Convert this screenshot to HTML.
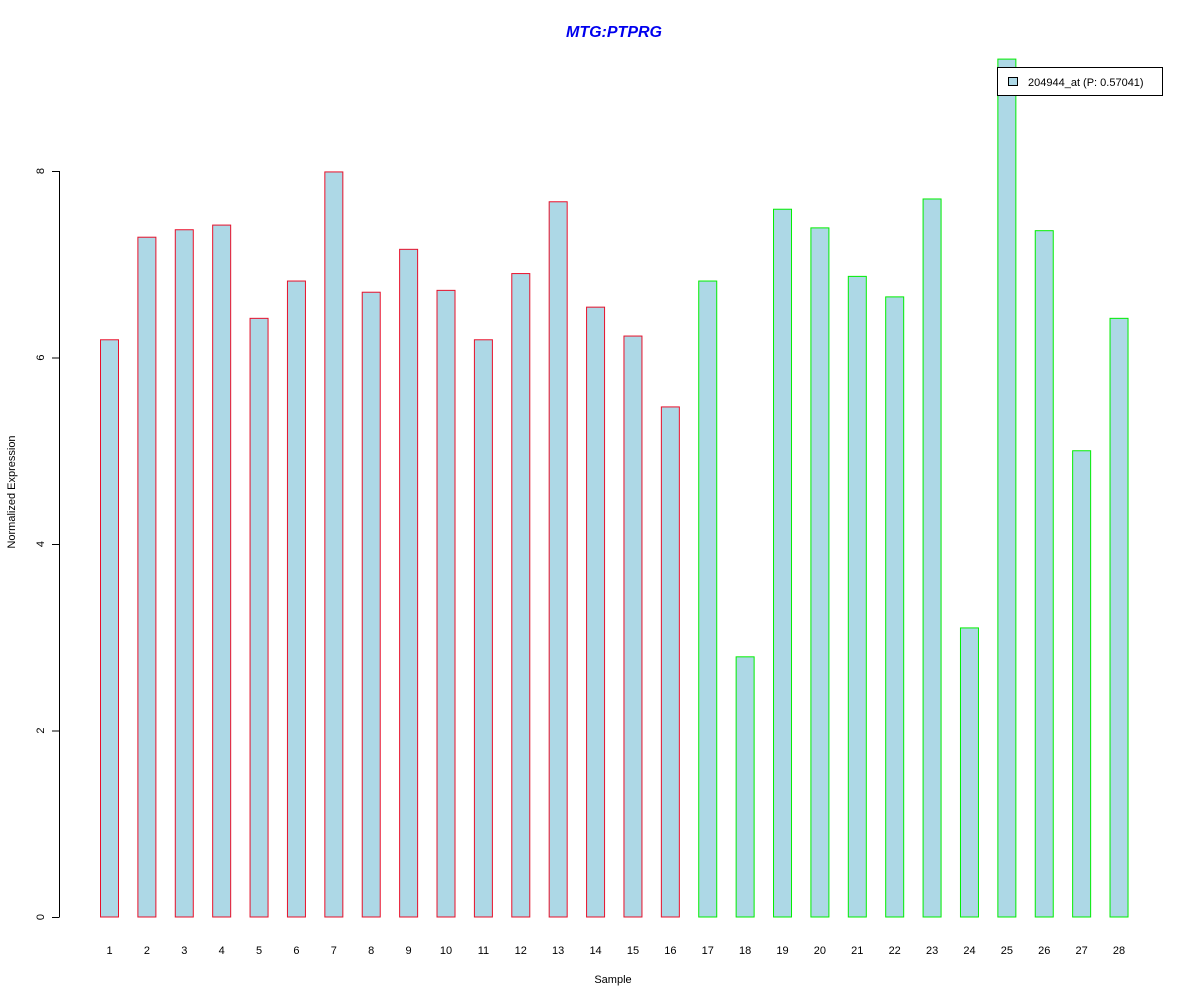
<!DOCTYPE html>
<html><head><meta charset="utf-8"><style>
body{margin:0;background:#fff}
svg text{font-family:"Liberation Sans",Arial,sans-serif}
</style></head><body>
<svg id="chart" width="1200" height="1000" xmlns="http://www.w3.org/2000/svg">
<rect width="1200" height="1000" fill="#fff"/>
<text x="614" y="37" text-anchor="middle" font-size="16" font-weight="bold" font-style="italic" fill="#0000ee">MTG:PTPRG</text>
<text x="613" y="983" text-anchor="middle" font-size="11">Sample</text>
<text transform="translate(15,492) rotate(-90)" text-anchor="middle" font-size="11">Normalized Expression</text>
<g id="yaxis"></g>
<g id="bars"></g>
<g id="xlabels"></g>
<g>
<rect x="997.5" y="67.5" width="165" height="28" fill="#fff" stroke="#000"/>
<rect x="1008.5" y="77.5" width="9" height="8" fill="#add8e6" stroke="#000"/>
<text x="1028" y="86" font-size="11">204944_at (P: 0.57041)</text>
</g>
</svg>
<script>
const categories=["1","2","3","4","5","6","7","8","9","10","11","12","13","14","15","16","17","18","19","20","21","22","23","24","25","26","27","28"];
const values=[6.19,7.29,7.37,7.42,6.42,6.82,7.99,6.70,7.16,6.72,6.19,6.90,7.67,6.54,6.23,5.47,6.82,2.79,7.59,7.39,6.87,6.65,7.70,3.10,9.20,7.36,5.00,6.42];
const groups=[1,1,1,1,1,1,1,1,1,1,1,1,1,1,1,1,2,2,2,2,2,2,2,2,2,2,2,2];
const yTicks=[0,2,4,6,8];
const NS="http://www.w3.org/2000/svg";
const y=v=>917-v*93.25;
const x=i=>109.5+i*37.39;
const mk=(t,a,p)=>{const e=document.createElementNS(NS,t);for(const k in a)e.setAttribute(k,a[k]);p.appendChild(e);return e;};
const ya=document.getElementById('yaxis');
const ax=mk('line',{x1:59.5,x2:59.5,y1:y(yTicks[0]),y2:y(yTicks[yTicks.length-1]),stroke:'#000'},ya);


yTicks.forEach(t=>{
 const l=mk('line',{x1:52,x2:59.5,y1:y(t)+0.5,y2:y(t)+0.5,stroke:'#000'},ya);
 
 
 const tx=mk('text',{transform:`translate(44,${y(t)}) rotate(-90)`,'text-anchor':'middle','font-size':11},ya);
 tx.textContent=t;
 
 
});
const bg=document.getElementById('bars'),xl=document.getElementById('xlabels');
values.forEach((v,i)=>{
 const r=mk('rect',{x:x(i)-9,y:y(v),width:18,height:y(0)-y(v),fill:'#add8e6',stroke:groups[i]==1?'#e8102a':'#00ee00'},bg);
 
 
 const t=mk('text',{x:x(i),y:954,'text-anchor':'middle','font-size':11},xl);
 t.textContent=categories[i];
 
 
});
</script>
</body></html>
